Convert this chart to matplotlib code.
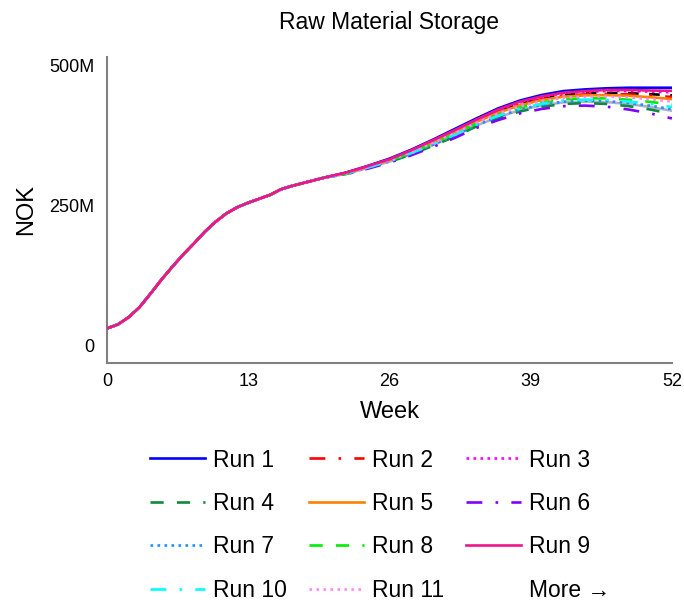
import matplotlib.pyplot as plt

plt.rcParams['font.family'] = ['Liberation Sans', 'DejaVu Sans']

# shared start of all runs, weekly, weeks 0..20 (million NOK)
base_weeks = list(range(0, 21))
base = [30, 37, 50, 68, 92, 117, 140, 162, 182, 203, 221, 236, 247, 255, 262,
        269, 279, 285, 290, 295, 300]

# per-run values, every 2 weeks, weeks 22..52 (million NOK)
tail_weeks = list(range(22, 53, 2))
run1 = [309, 321, 334, 350, 368, 387, 406, 424, 438, 448, 455, 458, 460, 461, 461, 461]
run2 = [308, 319.5, 332, 347, 364, 382, 401, 418, 431, 440.5, 447, 449, 450, 449, 447, 444.5]
run3 = [308.6, 320.3, 333, 348.5, 366, 384.6, 403.5, 421, 434.6, 444.3, 451, 453.7, 455, 455.2, 454, 452.8]
run4 = [306.5, 316.8, 328, 341.5, 357, 373.4, 391.6, 406, 418.5, 426.8, 432, 433.4, 432, 428, 422, 414]
run5 = [308, 319.2, 331.4, 346.3, 363.2, 381, 399.7, 416.2, 429.5, 438.8, 445, 447.3, 447.8, 446.6, 444, 440.7]
run6 = [306, 316, 327, 340, 355, 371, 389, 403, 415, 423, 428, 429, 427, 422, 415, 406]
run7 = [307, 317.5, 329, 343, 359, 375.8, 394, 409.3, 422, 430.5, 436, 437.7, 437, 433.7, 428.8, 422.5]
run8 = [307.4, 318.3, 330.2, 344.5, 361, 378.2, 396.7, 412.5, 425.4, 434.3, 440.2, 442, 442, 439.6, 435.7, 430.8]
run9 = [309, 320.5, 333, 349, 367, 385, 404, 422, 436, 445.5, 452, 455, 457, 457, 456, 455.5]
run10 = [307, 318, 329.6, 343.7, 359.8, 377, 395.3, 410.8, 423.5, 432.3, 438, 439.7, 439.2, 436.4, 432, 426.4]
run11 = [307.7, 318.8, 331, 345.5, 362.2, 379.8, 398.4, 414.6, 427.7, 436.8, 443, 445, 445.2, 443.5, 440.3, 436.3]
run12 = [308.3, 319.8, 332.3, 347.5, 364.8, 383, 401.8, 418.8, 432.3, 441.8, 448.3, 450.8, 451.8, 451.3, 449.5, 447.3]
run13 = [306.8, 317.3, 328.8, 342.5, 358.3, 375, 393.3, 408.3, 420.8, 429.3, 434.8, 436.3, 435.3, 431.8, 426.5, 419.8]

labels = ['Run 1', 'Run 2', 'Run 3', 'Run 4', 'Run 5', 'Run 6', 'Run 7',
          'Run 8', 'Run 9', 'Run 10', 'Run 11', 'Run 12', 'Run 13']
tails = [run1, run2, run3, run4, run5, run6, run7, run8, run9, run10, run11, run12, run13]
colors = ['#0000ff', '#ff0000', '#ff00ff', '#11883c', '#ff8000', '#8000ff', '#1e90ff',
          '#00ee00', '#f0148a', '#00ffff', '#ff88ff', '#000000', '#b0b0c8']
styles = ['-', (0, (6, 5, 1, 5)), ':', (0, (5, 5)), '-', (0, (6, 5, 1, 5)), ':',
          (0, (5, 5)), '-', (0, (6, 5, 1, 5)), ':', (0, (4, 4)), '-']
# extra runs sit underneath, the pink/magenta runs on top
zorders = [3, 3, 4, 3, 3, 3, 3, 3, 5, 4, 4, 2, 2]

fig = plt.figure(figsize=(6.84, 6.04), dpi=100)
ax = fig.add_axes([0.1564, 0.399, 0.826, 0.5066])

weeks = base_weeks + tail_weeks
handles = []
for lab, tail, c, ls, z in zip(labels, tails, colors, styles, zorders):
    h, = ax.plot(weeks, base + tail, color=c, linestyle=ls, linewidth=1.9,
                 label=lab, zorder=z)
    handles.append(h)

ax.set_xlim(0, 52)
ax.set_ylim(-32, 516)
ax.set_xticks([0, 13, 26, 39, 52])
ax.set_yticks([0, 250, 500])
ax.set_yticklabels(['0', '250M', '500M'])
ax.tick_params(length=0, labelsize=13)
ax.tick_params(axis='x', pad=7)
ax.tick_params(axis='y', pad=9)
for s in ['top', 'right']:
    ax.spines[s].set_visible(False)
for s in ['left', 'bottom']:
    ax.spines[s].set_color('#808080')
    ax.spines[s].set_linewidth(1.5)

ax.set_title('Raw Material Storage', fontsize=16.5, pad=20)
ax.set_xlabel('Week', fontsize=17, labelpad=8)
ax.set_ylabel('NOK', fontsize=17, labelpad=9)

# legend filled row by row: 3 columns
more, = ax.plot([], [], color='none', label='More \u2192')
entries = handles[:11] + [more]
ncol = 3
ordered = [entries[r * ncol + c] for c in range(ncol) for r in range(len(entries) // ncol)]
fig.legend(handles=ordered, labels=[h.get_label() for h in ordered],
           ncol=ncol, loc='upper center', bbox_to_anchor=(0.556, 0.284),
           frameon=False, fontsize=16.5, handlelength=2.4, handletextpad=0.35,
           columnspacing=0.95, labelspacing=0.89, borderpad=0.2)

fig.savefig('out.png', dpi=100)
